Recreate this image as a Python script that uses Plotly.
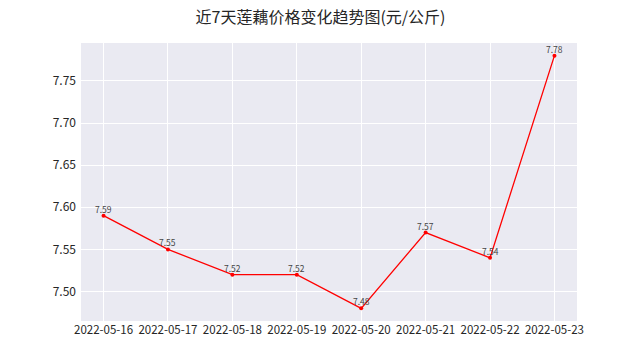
import plotly.graph_objects as go

dates = ["2022-05-16", "2022-05-17", "2022-05-18", "2022-05-19",
         "2022-05-20", "2022-05-21", "2022-05-22", "2022-05-23"]
prices = [7.59, 7.55, 7.52, 7.52, 7.48, 7.57, 7.54, 7.78]
y_ticks = [7.50, 7.55, 7.60, 7.65, 7.70, 7.75]
title = "近7天莲藕价格变化趋势图(元/公斤)"

x_idx = list(range(len(dates)))
font_cjk = "Noto Sans CJK SC, DejaVu Sans, sans-serif"

fig = go.Figure()
fig.add_trace(go.Scatter(
    x=x_idx, y=prices, mode="lines+markers",
    line=dict(color="#ff0000", width=1.3),
    marker=dict(color="#ff0000", size=4),
    hoverinfo="skip",
))
for xi, v in zip(x_idx, prices):
    fig.add_annotation(
        x=xi, y=v, text=f"{v:.2f}", showarrow=False,
        xanchor="center", yanchor="bottom", yshift=-1,
        font=dict(size=8.5, color="#444444", family=font_cjk),
    )

fig.update_layout(
    width=641, height=361,
    margin=dict(l=81, r=64, t=43, b=40),
    paper_bgcolor="white",
    plot_bgcolor="#EAEAF2",
    showlegend=False,
    title=dict(text=title, x=0.5, xref="container", xanchor="center",
               y=1 - 17/361, yref="container", yanchor="middle",
               font=dict(size=16, color="#262626", family=font_cjk)),
    font=dict(family=font_cjk),
)
fig.update_xaxes(
    range=[-0.35, 7.35], tickmode="array", tickvals=x_idx, ticktext=dates,
    showgrid=True, gridcolor="white", gridwidth=1, zeroline=False,
    showline=False, ticks="", ticklen=0, tickangle=0,
    tickfont=dict(size=11.5, color="#262626", family=font_cjk),
)
fig.update_yaxes(
    range=[7.465, 7.795], tickmode="array", tickvals=y_ticks,
    ticktext=[f"{v:.2f}" for v in y_ticks],
    showgrid=True, gridcolor="white", gridwidth=1, zeroline=False,
    showline=False, ticks="", ticklen=0, ticklabelstandoff=4,
    tickfont=dict(size=12, color="#262626", family=font_cjk),
)

fig.write_html("out.html")
